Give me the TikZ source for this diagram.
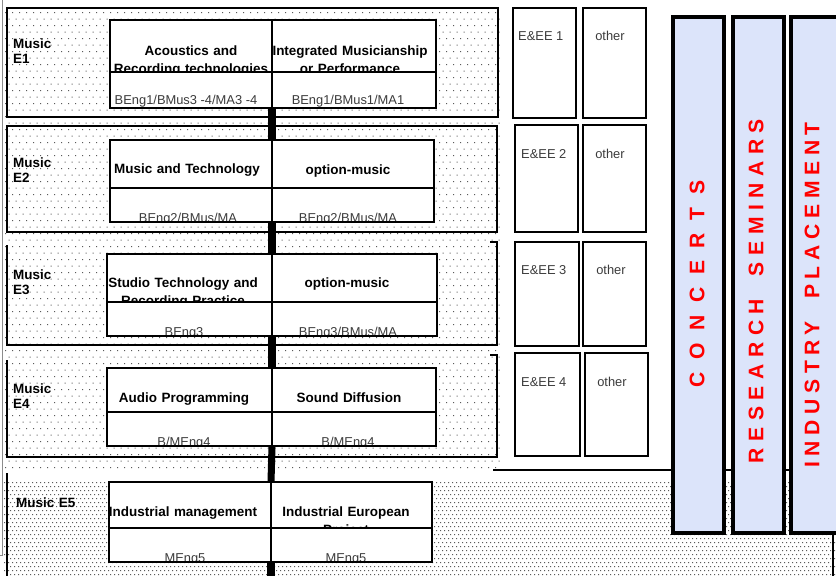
\documentclass[tikz,border=0pt]{standalone}
\usepackage{fontspec}
\setmainfont{Liberation Sans}
\usepackage{xcolor}
\usepackage{tikz}
\definecolor{MPBar}{HTML}{DCE4FA}
\definecolor{MPRed}{HTML}{FF0000}
\definecolor{MPDots}{HTML}{5A5A5A}
\definecolor{MPText}{HTML}{3C3C3C}
\definecolor{MPEdge}{HTML}{8C8C8C}

\begin{document}
\begin{tikzpicture}[x=0.03cm,y=-0.03cm,
  frame/.style={line width=1.5pt},
  modbox/.style={line width=1.5pt},
  sidebox/.style={draw,fill=white,line width=1.3pt},
  strand/.style={draw,fill=MPBar,line width=3pt},
  link/.style={line width=6pt},
  rowlabel/.style={font=\bfseries\fontsize{11.5}{13.5}\selectfont,text width=2cm,align=left,anchor=base west,inner sep=0pt},
  modhead/.style={font=\bfseries\fontsize{11.5}{16.2}\selectfont,text width=6cm,align=center,anchor=base,inner sep=0pt},
  modcode/.style={font=\fontsize{11}{13}\selectfont,text=MPText,anchor=base,inner sep=0pt},
  sidetext/.style={font=\fontsize{11}{13}\selectfont,text=MPText,anchor=base west,inner sep=0pt},
  strandtext/.style={font={\bfseries\fontsize{18}{20}\selectfont\addfontfeature{LetterSpace=31}},text=MPRed,rotate=90,inner sep=0pt}]
\path[use as bounding box] (0,0) rectangle (836,576);
% background dots
\foreach \r in {0,...,70}
  \fill[MPDots] \foreach \c in {0,...,70} {({5+7*\c+3.5*mod(\r,2)},{12+6.5*\r}) rectangle +(1.2,1.2)};
\foreach \r in {0,...,23}
  \fill[MPDots] \foreach \c in {0,...,207} {({4+4*\c+2*mod(\r,2)},{482+4*\r}) rectangle +(1.1,1.1)};
\draw[MPEdge,line width=0.8pt] (2,0) -- (2,555) -- (0,555);
% year frames
\draw[frame] (7,8) rectangle (498,117);
\draw[frame] (7,126) rectangle (497,232);
\draw[frame] (490,242) -- (497,242) -- (497,345) -- (7,345) -- (7,245);
\draw[frame] (490,355) -- (497,355) -- (497,457) -- (7,457) -- (7,360);
\draw[frame] (7,473) -- (7,576);
\draw[frame] (493,470) -- (836,470);

% Music E1
\node[rowlabel] (e1) at (13,48) {Music\\E1};
\fill[white] (110,20) rectangle (436,108);
\begin{scope}
\clip (110,20) rectangle (436,72);
\node[modhead] (e1a) at (191,55) {Acoustics and\\Recording technologies};
\node[modhead] (e1b) at (350,55) {Integrated Musicianship\\or Performance};
\end{scope}
\begin{scope}
\clip (110,72) rectangle (436,108);
\node[modcode] (e1c) at (186,104) {BEng1/BMus3 -4/MA3 -4};
\node[modcode] (e1d) at (348,104) {BEng1/BMus1/MA1};
\end{scope}
\draw[modbox] (110,20) rectangle (436,108) (110,72) -- (436,72) (272,20) -- (272,108);
\coordinate (e1top) at (272,20);
\coordinate (e1bot) at (272,108);

% Music E2
\node[rowlabel] (e2) at (13,167) {Music\\E2};
\fill[white] (110,140) rectangle (434,222);
\begin{scope}
\clip (110,140) rectangle (434,188);
\node[modhead] (e2a) at (187,173) {Music and Technology};
\node[modhead] (e2b) at (348,174) {option-music};
\end{scope}
\begin{scope}
\clip (110,188) rectangle (434,222);
\node[modcode] (e2c) at (188,222) {BEng2/BMus/MA};
\node[modcode] (e2d) at (348,222) {BEng2/BMus/MA};
\end{scope}
\draw[modbox] (110,140) rectangle (434,222) (110,188) -- (434,188) (272,140) -- (272,222);
\coordinate (e2top) at (272,140);
\coordinate (e2bot) at (272,222);

% Music E3
\node[rowlabel] (e3) at (13,279) {Music\\E3};
\fill[white] (107,254) rectangle (437,336);
\begin{scope}
\clip (107,254) rectangle (437,302);
\node[modhead] (e3a) at (183,287) {Studio Technology and\\Recording Practice};
\node[modhead] (e3b) at (347,287) {option-music};
\end{scope}
\begin{scope}
\clip (107,302) rectangle (437,336);
\node[modcode] (e3c) at (184,336) {BEng3};
\node[modcode] (e3d) at (348,336) {BEng3/BMus/MA};
\end{scope}
\draw[modbox] (107,254) rectangle (437,336) (107,302) -- (437,302) (272,254) -- (272,336);
\coordinate (e3top) at (272,254);
\coordinate (e3bot) at (272,336);

% Music E4
\node[rowlabel] (e4) at (13,393) {Music\\E4};
\fill[white] (107,368) rectangle (436,446);
\begin{scope}
\clip (107,368) rectangle (436,412);
\node[modhead] (e4a) at (184,402) {Audio Programming};
\node[modhead] (e4b) at (349,402) {Sound Diffusion};
\end{scope}
\begin{scope}
\clip (107,412) rectangle (436,446);
\node[modcode] (e4c) at (184,446) {B/MEng4};
\node[modcode] (e4d) at (348,446) {B/MEng4};
\end{scope}
\draw[modbox] (107,368) rectangle (436,446) (107,412) -- (436,412) (272,368) -- (272,446);
\coordinate (e4top) at (272,368);
\coordinate (e4bot) at (272,446);

% Music E5
\node[rowlabel] (e5) at (16,507) {Music E5};
\fill[white] (109,482) rectangle (432,562);
\begin{scope}
\clip (109,482) rectangle (432,528);
\node[modhead] (e5a) at (183,516) {Industrial management};
\node[modhead] (e5b) at (346,516) {Industrial European\\Project};
\end{scope}
\begin{scope}
\clip (109,528) rectangle (432,562);
\node[modcode] (e5c) at (185,562) {MEng5};
\node[modcode] (e5d) at (346,562) {MEng5};
\end{scope}
\draw[modbox] (109,482) rectangle (432,562) (109,528) -- (432,528) (271,482) -- (271,562);
\coordinate (e5top) at (271,482);
\coordinate (e5bot) at (271,562);
\coordinate (foot) at (271,576);

\draw[link] (e1bot) -- (e2top);
\draw[link] (e2bot) -- (e3top);
\draw[link] (e3bot) -- (e4top);
\draw[link] (e4bot) -- (e5top);
\draw[link] (e5bot) -- (foot);

% E&EE and other
\draw[sidebox] (513,8) rectangle (576,118);
\draw[sidebox] (583,8) rectangle (646,118);
\node[sidetext] (ee1) at (518,40) {E\&EE 1};
\node[sidetext,anchor=base] (ot1) at (610,40) {other};
\draw[sidebox] (515,125) rectangle (578,232);
\draw[sidebox] (583,125) rectangle (646,232);
\node[sidetext] (ee2) at (521,158) {E\&EE 2};
\node[sidetext,anchor=base] (ot2) at (610,158) {other};
\draw[sidebox] (515,242) rectangle (579,346);
\draw[sidebox] (583,242) rectangle (646,346);
\node[sidetext] (ee3) at (521,274) {E\&EE 3};
\node[sidetext,anchor=base] (ot3) at (611,274) {other};
\draw[sidebox] (515,353) rectangle (580,456);
\draw[sidebox] (585,353) rectangle (648,456);
\node[sidetext] (ee4) at (521,386) {E\&EE 4};
\node[sidetext,anchor=base] (ot4) at (612,386) {other};

% strands
\draw[strand] (673,17) rectangle (724,533);
\draw[strand] (733,17) rectangle (784,533);
\fill[MPBar] (791,17) rectangle (836,533);
\draw[line width=3pt] (838,17) -- (791,17) -- (791,533) -- (838,533);
\draw[line width=1pt] (833,533) -- (833,576);
\node[strandtext,font={\bfseries\fontsize{18}{20}\selectfont\addfontfeature{LetterSpace=60}}] (conc) at (697,284) {CONCERTS};
\node[strandtext] (sem) at (756,291) {RESEARCH \enspace SEMINARS};
\node[strandtext,font={\bfseries\fontsize{18}{20}\selectfont\addfontfeature{LetterSpace=27}}] (plc) at (812,295) {INDUSTRY \enspace PLACEMENT};
\end{tikzpicture}
\end{document}
